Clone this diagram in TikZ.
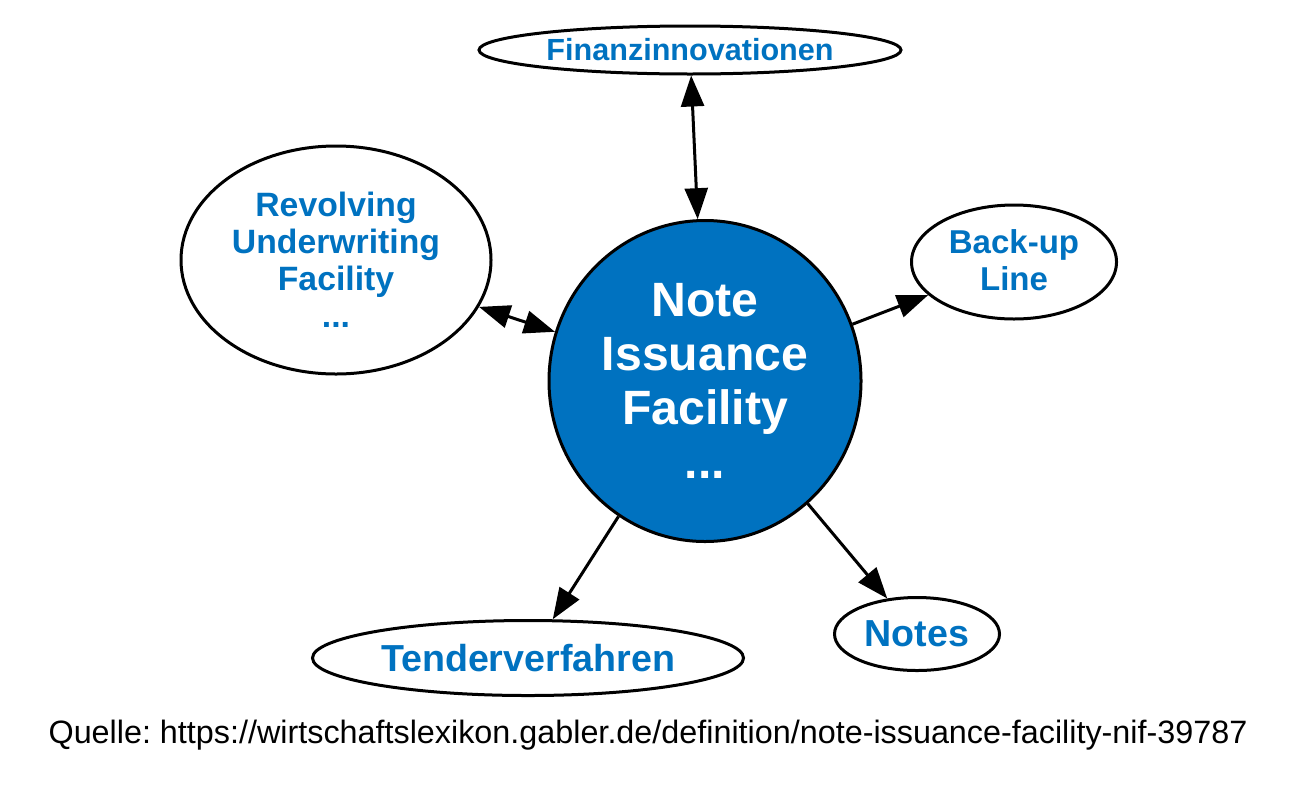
\documentclass[tikz,border=0pt]{standalone}
\usepackage{xcolor}
\usepackage{fontspec}
\setmainfont{Liberation Sans}
\usetikzlibrary{shapes.geometric}
\usetikzlibrary{arrows.meta}
\definecolor{nifblue}{RGB}{0,114,192}

\begin{document}
\begin{tikzpicture}[
    topic/.style={draw, ellipse, line width=0.03cm, inner sep=0pt, text=nifblue, align=center},
    link/.style={line width=0.03cm, -{Triangle[length=0.31cm,width=0.23cm]}},
    twolink/.style={line width=0.03cm, {Triangle[length=0.31cm,width=0.23cm]}-{Triangle[length=0.31cm,width=0.23cm]}}
  ]
  \useasboundingbox (0,0) rectangle (13.000000,7.870000);

  % Central node
  \node [topic, fill=nifblue, text=white, minimum width=3.12cm, minimum height=3.21cm,
         font={\bfseries\fontsize{13.7}{15.4}\selectfont}] (nif) at (7.050000,4.060000)
        {Note\\Issuance\\Facility\\...};

  % Surrounding nodes
  \node [topic, minimum width=4.22cm, minimum height=0.48cm,
         font={\bfseries\fontsize{8.7}{10.5}\selectfont}] (fin) at (6.900000,7.370000) {Finanzinnovationen};
  \node [topic, minimum width=3.10cm, minimum height=2.28cm,
         font={\bfseries\fontsize{9.6}{10.5}\selectfont}] (ruf) at (3.360000,5.270000)
        {Revolving\\Underwriting\\Facility\\...};
  \node [topic, minimum width=2.05cm, minimum height=1.14cm,
         font={\bfseries\fontsize{9.4}{10.5}\selectfont}] (backup) at (10.140000,5.250000) {\raisebox{0.04cm}{\shortstack{Back-up\\[-0.05cm]Line}}};
  \node [topic, minimum width=1.65cm, minimum height=0.73cm,
         font={\bfseries\fontsize{10.7}{12}\selectfont}] (notes) at (9.170000,1.530000) {Notes};
  \node [topic, minimum width=4.31cm, minimum height=0.75cm,
         font={\bfseries\fontsize{10.7}{12}\selectfont}] (tender) at (5.280000,1.290000) {Tenderverfahren};

  % Connectors
  \draw [twolink] (fin) -- (nif);
  \draw [twolink] (ruf) -- (nif);
  \draw [link] (nif) -- (backup);
  \draw [link] (nif) -- (tender);
  \draw [link] (nif) -- (notes);

  % Source line
  \node [font={\fontsize{9.2}{11}\selectfont}] (quelle) at (6.480000,0.520000)
        {\frenchspacing Quelle: https://wirtschaftslexikon.gabler.de/definition/note-issuance-facility-nif-39787};
\end{tikzpicture}
\end{document}
